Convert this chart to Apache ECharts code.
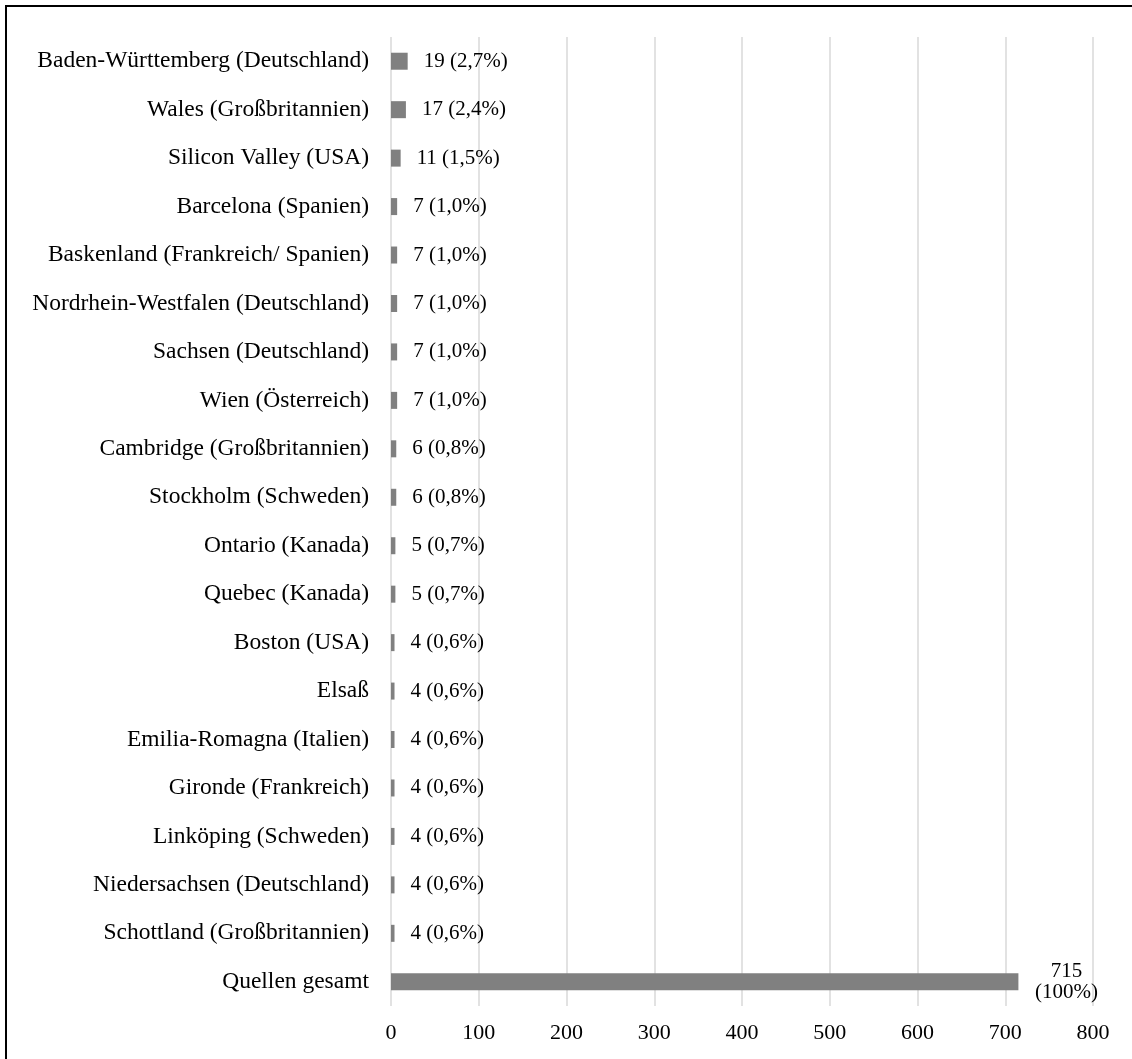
<!DOCTYPE html>
<html>
<head>
<meta charset="utf-8">
<style>
  html, body { margin: 0; padding: 0; background: #ffffff; }
  #chart { width: 1132px; height: 1059px; }
</style>
<script src="https://cdn.jsdelivr.net/npm/echarts@6/dist/echarts.min.js"></script>
</head>
<body>
<div id="chart"></div>
<script>
// Regions named as sources, and the overall count of sources
const regions = [
  'Baden-Württemberg (Deutschland)',
  'Wales (Großbritannien)',
  'Silicon Valley (USA)',
  'Barcelona (Spanien)',
  'Baskenland (Frankreich/ Spanien)',
  'Nordrhein-Westfalen (Deutschland)',
  'Sachsen (Deutschland)',
  'Wien (Österreich)',
  'Cambridge (Großbritannien)',
  'Stockholm (Schweden)',
  'Ontario (Kanada)',
  'Quebec (Kanada)',
  'Boston (USA)',
  'Elsaß',
  'Emilia-Romagna (Italien)',
  'Gironde (Frankreich)',
  'Linköping (Schweden)',
  'Niedersachsen (Deutschland)',
  'Schottland (Großbritannien)',
  'Quellen gesamt'
];
const counts = [19, 17, 11, 7, 7, 7, 7, 7, 6, 6, 5, 5, 4, 4, 4, 4, 4, 4, 4, 715];
const shares = ['2,7%', '2,4%', '1,5%', '1,0%', '1,0%', '1,0%', '1,0%', '1,0%', '0,8%', '0,8%',
                '0,7%', '0,7%', '0,6%', '0,6%', '0,6%', '0,6%', '0,6%', '0,6%', '0,6%', '100%'];
const xTicks = [0, 100, 200, 300, 400, 500, 600, 700, 800];

const FONT = '"Liberation Serif", "Times New Roman", serif';
const lastIndex = counts.length - 1;

const seriesData = counts.map((v, i) => {
  if (i === lastIndex) {
    // total: two-line label with centred lines
    return {
      value: v,
      label: { align: 'center', offset: [32, 0], lineHeight: 21 }
    };
  }
  return v;
});

const chart = echarts.init(document.getElementById('chart'), null, { renderer: 'canvas' });
chart.setOption({
  backgroundColor: '#ffffff',
  animation: false,
  textStyle: { fontFamily: FONT },
  grid: { left: 391, right: 39, top: 37, bottom: 53, containLabel: false },
  xAxis: {
    type: 'value',
    min: xTicks[0],
    max: xTicks[xTicks.length - 1],
    interval: xTicks[1] - xTicks[0],
    axisLine: { show: false },
    axisTick: { show: false },
    axisLabel: { color: '#000', fontSize: 22, fontFamily: FONT, margin: 16 },
    splitLine: { show: true, lineStyle: { color: '#d9d9d9', width: 1.5 } }
  },
  yAxis: {
    type: 'category',
    inverse: true,
    data: regions,
    axisLine: { show: false },
    axisTick: { show: false },
    axisLabel: { color: '#000', fontSize: 23.5, fontFamily: FONT, margin: 22 },
    splitLine: { show: false }
  },
  series: [{
    type: 'bar',
    data: seriesData,
    barWidth: 17,
    itemStyle: { color: '#808080' },
    label: {
      show: true,
      position: 'right',
      distance: 16,
      color: '#000',
      fontSize: 21,
      fontFamily: FONT,
      formatter: p => p.dataIndex === lastIndex
        ? counts[p.dataIndex] + '\n(' + shares[p.dataIndex] + ')'
        : counts[p.dataIndex] + ' (' + shares[p.dataIndex] + ')'
    }
  }],
  graphic: [
    { type: 'line', shape: { x1: 5, y1: 6, x2: 1132, y2: 6 }, style: { stroke: '#000', lineWidth: 2 } },
    { type: 'line', shape: { x1: 6, y1: 5, x2: 6, y2: 1059 }, style: { stroke: '#000', lineWidth: 2 } }
  ]
});
</script>
</body>
</html>
